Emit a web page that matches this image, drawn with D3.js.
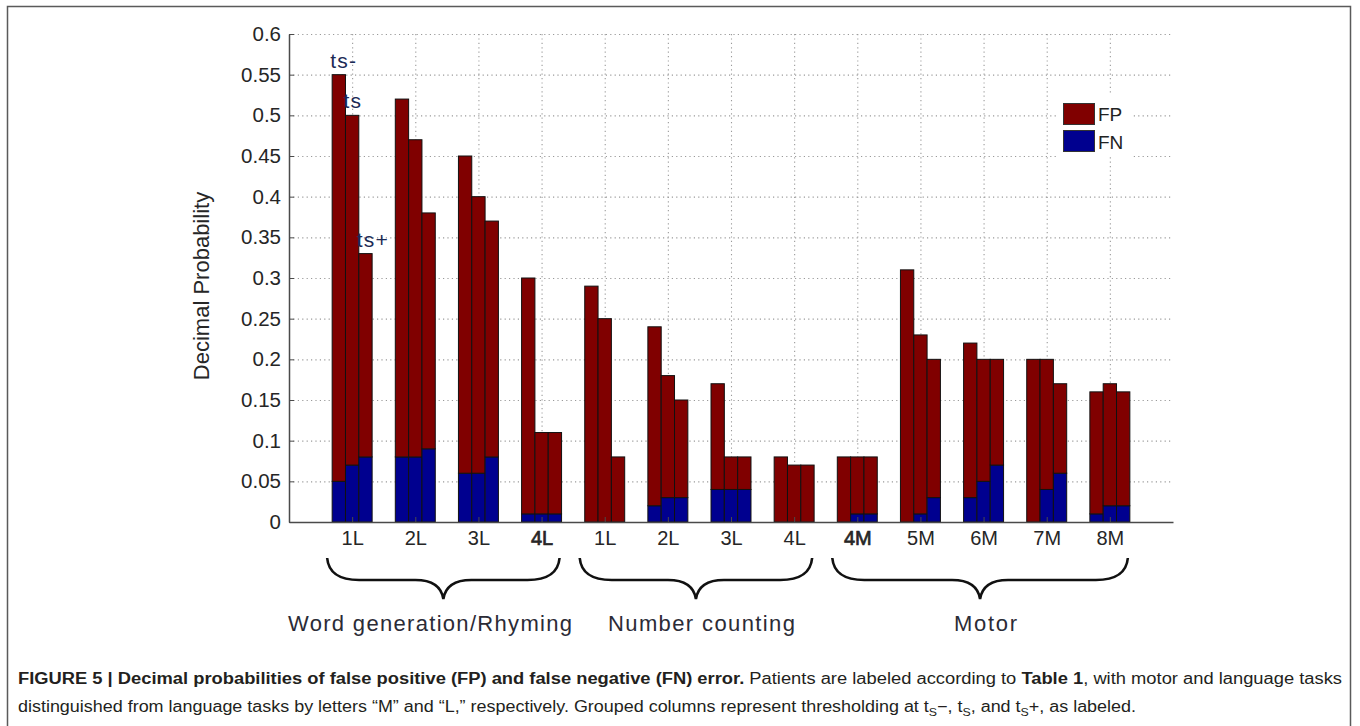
<!DOCTYPE html>
<html>
<head>
<meta charset="utf-8">
<script src="https://cdn.jsdelivr.net/npm/d3@7"></script>
<style>
  html, body { margin: 0; padding: 0; background: #fff; }
  svg { display: block; }
  text { font-family: "Liberation Sans", Arial, Helvetica, sans-serif; }
</style>
</head>
<body>
<svg id="chart" width="1360" height="726"></svg>
<script>
// Patient labels along the x axis (grouped by task)
const patients = ["1L", "2L", "3L", "4L", "1L", "2L", "3L", "4L", "4M", "5M", "6M", "7M", "8M"];
const thresholds = ["ts-", "ts", "ts+"];

// False negative error (bottom of each column), one array per threshold
const fnTsMinus = [0.05, 0.08, 0.06, 0.01, 0.00, 0.02, 0.04, 0.00, 0.00, 0.00, 0.03, 0.00, 0.01];
const fnTs      = [0.07, 0.08, 0.06, 0.01, 0.00, 0.03, 0.04, 0.00, 0.01, 0.01, 0.05, 0.04, 0.02];
const fnTsPlus  = [0.08, 0.09, 0.08, 0.01, 0.00, 0.03, 0.04, 0.00, 0.01, 0.03, 0.07, 0.06, 0.02];

// False positive error (stacked on top of FN), one array per threshold
const fpTsMinus = [0.50, 0.44, 0.39, 0.29, 0.29, 0.22, 0.13, 0.08, 0.08, 0.31, 0.19, 0.20, 0.15];
const fpTs      = [0.43, 0.39, 0.34, 0.10, 0.25, 0.15, 0.04, 0.07, 0.07, 0.22, 0.15, 0.16, 0.15];
const fpTsPlus  = [0.25, 0.29, 0.29, 0.10, 0.08, 0.12, 0.04, 0.07, 0.07, 0.17, 0.13, 0.11, 0.14];

const yTicks = [0, 0.05, 0.1, 0.15, 0.2, 0.25, 0.3, 0.35, 0.4, 0.45, 0.5, 0.55, 0.6];

// Task groups: first and last patient index covered by each brace
const taskNames = ["Word generation/Rhyming", "Number counting", "Motor"];
const taskStart = [0, 4, 8];
const taskEnd   = [3, 7, 12];

const fnSeries = [fnTsMinus, fnTs, fnTsPlus];
const fpSeries = [fpTsMinus, fpTs, fpTsPlus];

const svg = d3.select("#chart");
const FP_COLOR = "#800000", FN_COLOR = "#00008f";
const boldTicks = new Set([3, 8]);

// outer figure frame
svg.append("rect").attr("x", 7.5).attr("y", 6.5).attr("width", 1343).attr("height", 740)
  .attr("fill", "none").attr("stroke", "#5a5a5a").attr("stroke-width", 1.5);

const x = d3.scaleLinear().domain([0, 14]).range([289, 1173]);
const y = d3.scaleLinear().domain([0, 0.6]).range([522, 34]);
const barW = 0.211;

// dotted grid
const grid = svg.append("g").attr("stroke", "#9a9a9a").attr("stroke-width", 1.1)
  .attr("stroke-dasharray", "1.2,3.2");
grid.selectAll("line.h").data(yTicks.filter(d => d > 0)).join("line")
  .attr("x1", x(0)).attr("x2", x(14)).attr("y1", d => y(d) + 0.5).attr("y2", d => y(d) + 0.5);
grid.selectAll("line.v").data(patients).join("line")
  .attr("x1", (d, i) => x(i + 1) + 0.5).attr("x2", (d, i) => x(i + 1) + 0.5)
  .attr("y1", y(0.6)).attr("y2", y(0));

// stacked, grouped columns
const bars = [];
patients.forEach((p, i) => {
  thresholds.forEach((t, k) => {
    const fn = fnSeries[k][i], fp = fpSeries[k][i];
    const x0 = i + 1 + (k - 1) * barW - barW / 2;
    bars.push({ x0, lo: 0, hi: fn, color: FN_COLOR });
    bars.push({ x0, lo: fn, hi: fn + fp, color: FP_COLOR });
  });
});
svg.append("g").selectAll("rect").data(bars.filter(b => b.hi - b.lo > 1e-9)).join("rect")
  .attr("x", d => x(d.x0))
  .attr("width", d => x(d.x0 + barW) - x(d.x0))
  .attr("y", d => y(d.hi))
  .attr("height", d => y(d.lo) - y(d.hi))
  .attr("fill", d => d.color)
  .attr("stroke", "#111").attr("stroke-width", 1);

// threshold labels over the first group
const tsLabels = svg.append("g").attr("fill", "#1b2a55").attr("font-size", 21)
  .attr("letter-spacing", 1.2);
thresholds.forEach((t, k) => {
  const x0 = 1 + (k - 1) * barW - barW / 2;
  tsLabels.append("text").attr("x", x(x0) - 2)
    .attr("y", y(fnSeries[k][0] + fpSeries[k][0]) - 7)
    .text(t);
});

// axes
const yAxis = svg.append("g").attr("transform", `translate(${x(0)},0)`)
  .call(d3.axisLeft(y).tickValues(yTicks).tickFormat(d3.format("~g")).tickSizeInner(-5).tickSizeOuter(0).tickPadding(8));
yAxis.select(".domain").attr("stroke", "#4a4a4a").attr("stroke-width", 1.5);
yAxis.selectAll(".tick line").attr("stroke", "#4a4a4a");
yAxis.selectAll("text").attr("font-size", 20.5).attr("fill", "#262626")
  .attr("font-family", "'Liberation Sans', Arial, sans-serif");

const xAxis = svg.append("g").attr("transform", `translate(0,${y(0)})`)
  .call(d3.axisBottom(x).tickValues(d3.range(1, 14)).tickFormat((d) => patients[d - 1])
    .tickSizeInner(-5).tickSizeOuter(0).tickPadding(9));
xAxis.select(".domain").attr("stroke", "#4a4a4a").attr("stroke-width", 1.5);
xAxis.selectAll(".tick line").attr("stroke", "#4a4a4a");
xAxis.selectAll("text").attr("font-size", 20).attr("fill", "#262626")
  .attr("font-family", "'Liberation Sans', Arial, sans-serif")
  .attr("stroke", (d) => boldTicks.has(d - 1) ? "#262626" : "none")
  .attr("stroke-width", 0.7);

// y axis title
svg.append("text").attr("transform", "translate(209,286) rotate(-90)")
  .attr("text-anchor", "middle").attr("font-size", 22).attr("fill", "#262626")
  .text("Decimal Probability");

// legend
const legend = svg.append("g");
legend.append("rect").attr("x", 1057).attr("y", 95).attr("width", 74).attr("height", 62).attr("fill", "#fff");
[["FP", FP_COLOR], ["FN", FN_COLOR]].forEach(([name, col], j) => {
  legend.append("rect").attr("x", 1063.5).attr("y", 103.5 + j * 27).attr("width", 31).attr("height", 21)
    .attr("fill", col).attr("stroke", "#333").attr("stroke-width", 1);
  legend.append("text").attr("x", 1098).attr("y", 121 + j * 28).attr("font-size", 19)
    .attr("fill", "#222").text(name);
});

// task braces and names
const braceTop = 558, braceMid = 580, braceTip = 599;
const braces = svg.append("g").attr("fill", "none").attr("stroke", "#111").attr("stroke-width", 2.6);
taskNames.forEach((name, g) => {
  const x0 = x(taskStart[g] + 1) - 25, x1 = x(taskEnd[g] + 1) + 18;
  const xm = (x0 + x1) / 2;
  const r = 32, r2 = 28;
  const path = `M${x0},${braceTop} Q${x0 + 2},${braceMid} ${x0 + r},${braceMid} ` +
    `L${xm - r2},${braceMid} Q${xm - 3},${braceMid} ${xm},${braceTip} ` +
    `Q${xm + 3},${braceMid} ${xm + r2},${braceMid} L${x1 - r},${braceMid} ` +
    `Q${x1 - 2},${braceMid} ${x1},${braceTop}`;
  braces.append("path").attr("d", path);
});
const nameX = [288, 608, 954];
const nameW = [284, 187, 63];
taskNames.forEach((name, g) => {
  svg.append("text").attr("x", nameX[g]).attr("y", 631).attr("font-size", 22)
    .attr("fill", "#2b2b36").attr("textLength", nameW[g]).attr("lengthAdjust", "spacing")
    .text(name);
});

// figure caption
const cap1 = svg.append("text").attr("x", 18).attr("y", 684).attr("font-size", 16).attr("fill", "#231f20")
  .attr("textLength", 1324).attr("lengthAdjust", "spacingAndGlyphs");
cap1.append("tspan").attr("font-weight", "bold")
  .text("FIGURE 5 | Decimal probabilities of false positive (FP) and false negative (FN) error.");
cap1.append("tspan").text(" Patients are labeled according to ");
cap1.append("tspan").attr("font-weight", "bold").text("Table 1");
cap1.append("tspan").text(", with motor and language tasks");

const cap2 = svg.append("text").attr("x", 18).attr("y", 712).attr("font-size", 16).attr("fill", "#231f20")
  .attr("textLength", 1118).attr("lengthAdjust", "spacingAndGlyphs");
cap2.append("tspan").text("distinguished from language tasks by letters \u201CM\u201D and \u201CL,\u201D respectively. Grouped columns represent thresholding at t");
cap2.append("tspan").attr("font-size", 11).attr("dy", 4).text("S");
cap2.append("tspan").attr("dy", -4).text("\u2212, t");
cap2.append("tspan").attr("font-size", 11).attr("dy", 4).text("S");
cap2.append("tspan").attr("dy", -4).text(", and t");
cap2.append("tspan").attr("font-size", 11).attr("dy", 4).text("S");
cap2.append("tspan").attr("dy", -4).text("+, as labeled.");
</script>
</body>
</html>
